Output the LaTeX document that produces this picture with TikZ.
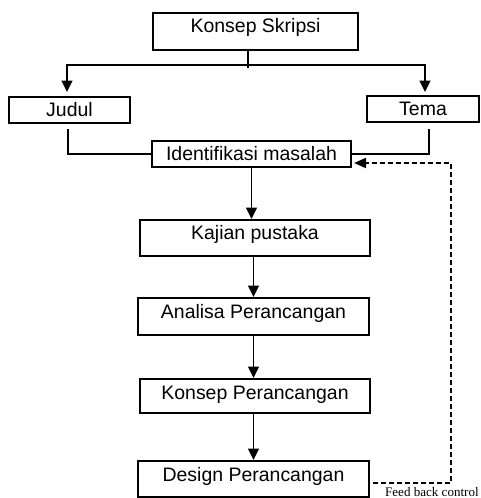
\documentclass[tikz,border=0pt]{standalone}
\usepackage{fontspec}
\setmainfont{Liberation Sans}
\newfontfamily\feedfont{Liberation Serif}
\usetikzlibrary{calc,arrows.meta}

\begin{document}
\begin{tikzpicture}[x=0.75pt,y=-0.75pt,
	box/.style={draw, line width=1.5pt, inner xsep=0pt, inner ysep=0pt,
		text height=15pt, font=\fontsize{14.6}{17}\selectfont},
	link/.style={line width=1.4pt},
	arr/.style={line width=1.4pt, -{Triangle[length=8.5pt,width=8pt]}},
	fb/.style={line width=1.4pt, dash pattern=on 3.75pt off 2.25pt,
		-{Triangle[length=9pt,width=7.5pt]}}]

% frame %{{{1

	\useasboundingbox (0,0) rectangle (480,498);

% boxes %{{{1

	\node[box, minimum width=153.75pt, text depth=12.75pt] (konsep) at (255.5,31.5) {Konsep Skripsi};
	\node[box, minimum width=90.75pt, text depth=4.5pt] (judul) at (69.5,110) {Judul};
	\node[box, minimum width=84pt, text depth=4.5pt] (tema) at (423,109) {Tema};
	\node[box, minimum width=149.25pt, text depth=4.5pt] (ident) at (251.5,154) {Identifikasi masalah};
	\node[box, minimum width=172.5pt, text depth=12pt] (kajian) at (255,238) {Kajian pustaka};
	\node[box, minimum width=173.25pt, text depth=12.75pt] (analisa) at (253.5,316.5) {Analisa Perancangan};
	\node[box, minimum width=172.5pt, text depth=10.5pt] (konsepP) at (255,396) {Konsep Perancangan};
	\node[box, minimum width=173.25pt, text depth=12pt] (design) at (253.5,479) {Design Perancangan};

	\node[anchor=base east, inner sep=0pt, font=\feedfont\fontsize{9.8}{11}\selectfont]
		(fblabel) at (479,496) {Feed back control};

% coordinates %{{{1

	\coordinate (split) at ($(konsep.south)+(-7.5,14)$);
	\coordinate (fbcorner) at (451,163);

% lines %{{{1

	\draw[link] ($(konsep.south)+(-7.5,0)$) -- ($(split)+(0,3)$);
	\draw[arr] (split) -| ($(judul.north)+(-2.5,-4)$);
	\draw[arr] (split) -| ($(tema.north)+(2,-3)$);

	\draw[link] ($(judul.south)+(-1.5,5)$) |- (ident.west);
	\draw[link] ($(tema.south)+(6,6)$) |- (ident.east);

	\draw[arr] (ident.south) -- (ident.south |- kajian.north);
	\draw[arr] (kajian.south -| analisa) -- (analisa.north);
	\draw[arr] (analisa.south) -- (analisa.south |- konsepP.north);
	\draw[arr] (konsepP.south -| design) -- (design.north);

% feedback %{{{1

	\draw[fb] ($(design.east)+(3,4)$) -| (fbcorner) -- ($(fbcorner -| ident.east)+(2,0)$);

\end{tikzpicture}
\end{document}
